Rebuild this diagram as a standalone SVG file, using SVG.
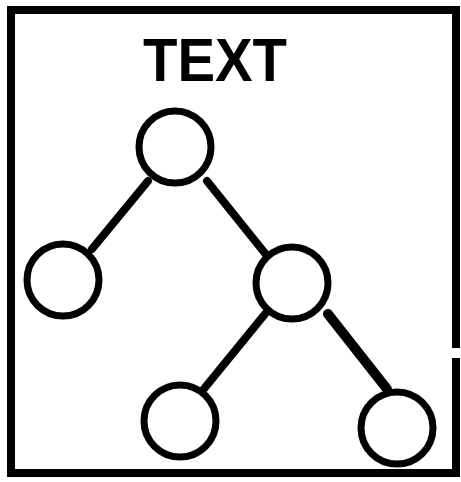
<svg xmlns="http://www.w3.org/2000/svg" width="461" height="482" viewBox="0 0 461 482">
<style>
.frame{fill:none;stroke:#000;stroke-width:8;stroke-linejoin:miter}
.node{fill:#fff;stroke:#000;stroke-width:7}
.edge{stroke:#000;stroke-width:8;stroke-linecap:round}
.title{font-family:"Liberation Sans",Arial,sans-serif;font-weight:bold;font-size:62px;fill:#000}
</style>
<rect width="461" height="482" fill="#fff"/>
<path class="frame" d="M456,348 L456,10 L11,10 L11,473 L456,473 L456,358"/>
<text class="title" x="215" y="81" text-anchor="middle" textLength="144" lengthAdjust="spacingAndGlyphs">TEXT</text>
<g id="connectors">
<line class="edge" x1="148" y1="181" x2="92" y2="249"/>
<line class="edge" x1="207" y1="181" x2="268" y2="257"/>
<line class="edge" x1="265" y1="314" x2="203" y2="390"/>
<line class="edge" x1="328" y1="314" x2="387" y2="389" style="stroke-width:10"/>
</g>
<g id="n-root"><circle class="node" cx="175" cy="147" r="36"/></g>
<g id="n-left"><circle class="node" cx="63" cy="280" r="36"/></g>
<g id="n-right"><circle class="node" cx="292" cy="283" r="36"/></g>
<g id="n-right-left"><circle class="node" cx="180" cy="421" r="36"/></g>
<g id="n-right-right"><circle class="node" cx="397" cy="428" r="36"/></g>
</svg>
